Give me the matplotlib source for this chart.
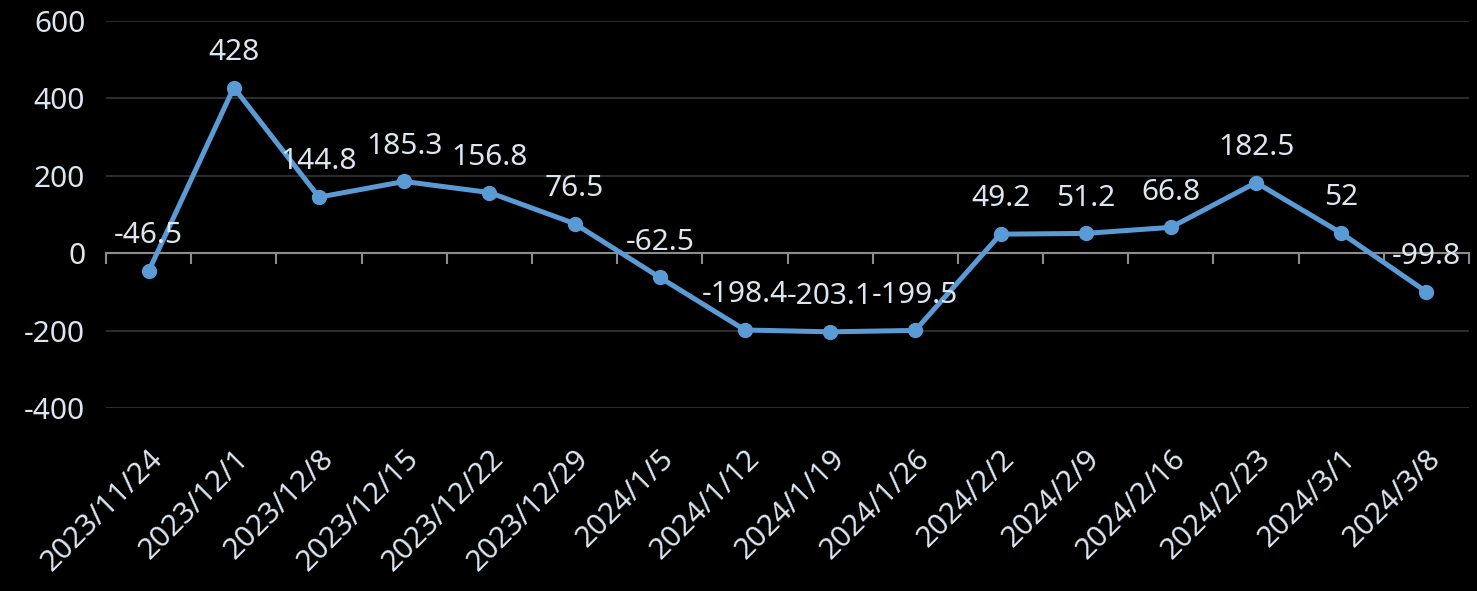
import matplotlib.pyplot as plt

dates = ["2023/11/24", "2023/12/1", "2023/12/8", "2023/12/15", "2023/12/22",
         "2023/12/29", "2024/1/5", "2024/1/12", "2024/1/19", "2024/1/26",
         "2024/2/2", "2024/2/9", "2024/2/16", "2024/2/23", "2024/3/1", "2024/3/8"]
values = [-46.5, 428, 144.8, 185.3, 156.8, 76.5, -62.5, -198.4, -203.1, -199.5,
          49.2, 51.2, 66.8, 182.5, 52, -99.8]
yticks = [-400, -200, 0, 200, 400, 600]

TXT = "#dce6f0"
LINE = "#5b9bd5"
plt.rcParams["font.family"] = ["Noto Sans", "DejaVu Sans"]

fig = plt.figure(figsize=(14.77, 5.91), dpi=100, facecolor="black")
ax = fig.add_axes([0.0718, 0.3096, 0.9228, 0.6549], facecolor="black")

x = list(range(len(values)))
ax.plot(x, values, color=LINE, lw=3.6, marker="o", ms=10, zorder=3)

for xi, v in zip(x, values):
    label = f"{v:g}"
    ax.annotate(label, (xi, v), xytext=(0, 15), textcoords="offset points",
                ha="center", va="bottom", color=TXT, fontsize=21.5, zorder=4)

ax.set_xlim(-0.5, len(values) - 0.5)
ax.set_ylim(-400, 600)
ax.set_yticks(yticks)
ax.set_yticklabels([str(t) for t in yticks])
ax.tick_params(axis="y", length=0, pad=15, labelsize=21.5, labelcolor=TXT)
for t in yticks:
    if t != 0:
        ax.axhline(t, color="#2b2b2b", lw=1.5, zorder=1)

for s in ["top", "right", "left"]:
    ax.spines[s].set_visible(False)
ax.spines["bottom"].set_position(("data", 0))
ax.spines["bottom"].set_color("#8c8c8c")
ax.spines["bottom"].set_linewidth(1.5)
ax.set_xticks([i - 0.5 for i in range(len(values) + 1)])
ax.set_xticklabels([])
ax.tick_params(axis="x", direction="out", length=8, width=1.5, color="#8c8c8c")

sec = ax.secondary_xaxis("bottom")
sec.set_xticks(x)
sec.set_xticklabels(dates, rotation=45, ha="right", rotation_mode="anchor")
sec.spines["bottom"].set_visible(False)
sec.tick_params(axis="x", length=0, pad=26, labelsize=21.5, labelcolor=TXT)

fig.savefig("out.png", dpi=100, facecolor="black")
